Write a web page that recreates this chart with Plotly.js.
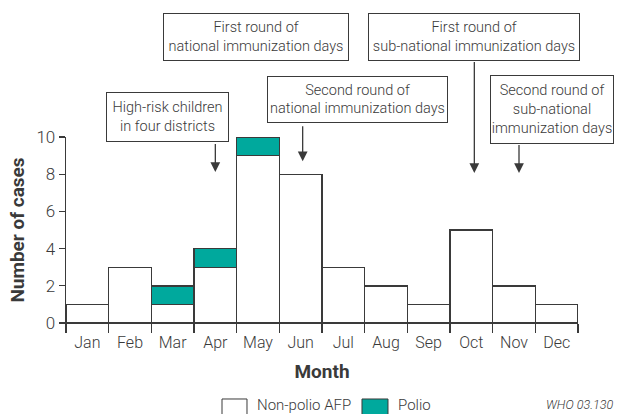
<!DOCTYPE html>
<html>
<head>
<meta charset="utf-8">
<script src="https://cdn.plot.ly/plotly-3.0.1.min.js"></script>
<style>html,body{margin:0;padding:0;background:#fff;}#chart{width:617px;height:414px;}</style>
</head>
<body>
<div id="chart"></div>
<script>
const months = ["Jan","Feb","Mar","Apr","May","Jun","Jul","Aug","Sep","Oct","Nov","Dec"];
const nonPolioAFP = [1,3,1,3,9,8,3,2,1,5,2,1];
const polio = [0,0,1,1,1,0,0,0,0,0,0,0];
const seriesNames = ["Non-polio AFP","Polio"];
const yTicks = [0,2,4,6,8,10];

const FONT = "Roboto, Open Sans, sans-serif";
const INK = "#3a3a3a";
const TEAL = "#00A99D";

const traces = [
  {type:"bar", x:months, y:nonPolioAFP, name:seriesNames[0],
   marker:{color:"#ffffff", line:{color:INK, width:1.4}}, cliponaxis:false},
  {type:"bar", x:months, y:polio, name:seriesNames[1],
   marker:{color:TEAL, line:{color:INK, width:1.4}}, cliponaxis:false}
];

// boxes: [text, paper x center, paper y center, outer width, outer height]
const boxes = [
  ["High-risk children<br>in four districts", 0.1982, 1.1075, 123, 50],
  ["First round of<br>national immunization days", 0.3705, 1.5384, 186, 48],
  ["Second round of<br>national immunization days", 0.5693, 1.2024, 181, 47],
  ["First round of<br>sub-national immunization days", 0.7969, 1.5384, 212, 48],
  ["Second round of<br>sub-national<br>immunization days", 0.9492, 1.1478, 124, 69]
];
// arrows: [month, tip value, tail offset px, x shift px]
const arrows = [
  ["Apr", 8.12, -30, 0],
  ["May", 10.8, -62, -2],
  ["Jun", 8.7, -37, 2],
  ["Oct", 8.06, -113, 3],
  ["Nov", 8.06, -30, 5]
];

const annotations = [];
boxes.forEach(b => {
  annotations.push({text:b[0], xref:"paper", yref:"paper", x:b[1], y:b[2],
    xanchor:"center", yanchor:"middle", showarrow:false,
    width:b[3]-2, height:b[4]-2, borderpad:0, bordercolor:INK, borderwidth:1,
    bgcolor:"#ffffff", font:{family:FONT, size:14.5, weight:300, color:INK}, align:"center"});
});
arrows.forEach(a => {
  annotations.push({text:" ", xref:"x", yref:"y", x:a[0], y:a[1], ax:0, ay:a[2],
    xshift:a[3], showarrow:true, arrowhead:2, arrowsize:1.5, arrowwidth:1.3,
    arrowcolor:INK, standoff:0, startstandoff:0, font:{size:1}});
});
// legend
annotations.push({text:seriesNames[0], xref:"paper", yref:"paper", x:0.369, y:-0.44,
  xanchor:"left", yanchor:"middle", showarrow:false, font:{family:FONT, size:15, weight:300, color:INK}});
annotations.push({text:seriesNames[1], xref:"paper", yref:"paper", x:0.6445, y:-0.44,
  xanchor:"left", yanchor:"middle", showarrow:false, font:{family:FONT, size:15, weight:300, color:INK}});
annotations.push({text:"WHO 03.130", xref:"paper", yref:"paper", x:1.072, y:-0.44,
  xanchor:"right", yanchor:"middle", showarrow:false,
  font:{family:FONT, size:12.5, weight:300, style:"italic", color:INK}});

const shapes = [
  {type:"rect", xref:"paper", yref:"paper", x0:0.3047, x1:0.3535, y0:-0.52, y1:-0.4086,
   fillcolor:"#ffffff", line:{color:INK, width:1}},
  {type:"rect", xref:"paper", yref:"paper", x0:0.5781, x1:0.6289, y0:-0.52, y1:-0.4086,
   fillcolor:TEAL, line:{color:INK, width:1}}
];

const layout = {
  width:617, height:414,
  margin:{l:66, r:39, t:137, b:91, pad:0},
  paper_bgcolor:"#ffffff", plot_bgcolor:"#ffffff",
  barmode:"stack", bargap:0, showlegend:false,
  font:{family:FONT, color:INK},
  xaxis:{type:"category", tickson:"boundaries", ticks:"outside", ticklen:9, tickwidth:1.3,
    tickcolor:INK, showline:true, linecolor:INK, linewidth:1.3, showgrid:false, zeroline:false,
    ticklabelstandoff:4,
    tickfont:{family:FONT, size:16, weight:300, color:INK},
    title:{text:"<b>Month</b>", font:{family:FONT, size:19, color:INK}, standoff:14}},
  yaxis:{range:[0,10], tickvals:yTicks, ticks:"outside", ticklen:6, tickwidth:1.3, tickcolor:INK,
    showline:true, linecolor:INK, linewidth:1.3, showgrid:false, zeroline:false,
    tickfont:{family:FONT, size:17, weight:300, color:INK},
    title:{text:"<b>Number of cases</b>", font:{family:FONT, size:19, color:INK}, standoff:6}},
  annotations:annotations, shapes:shapes
};

Plotly.newPlot("chart", traces, layout, {displayModeBar:false, staticPlot:true});
</script>
</body>
</html>
